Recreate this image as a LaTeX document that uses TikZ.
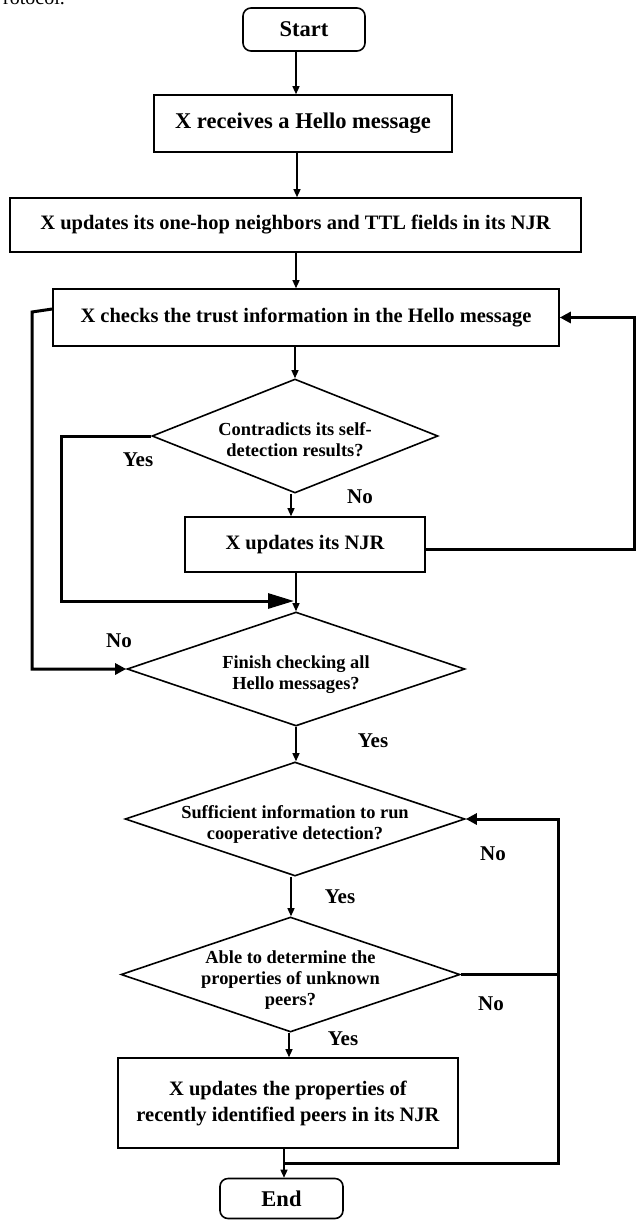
\documentclass[tikz,border=0pt]{standalone}
\usepackage{fontspec}
\setmainfont{Liberation Serif}
\usetikzlibrary{shapes.geometric,arrows.meta}
\newcommand\diatxt[1]{\raisebox{-6pt}[\height][\depth]{\begin{tabular}{@{}c@{}}#1\end{tabular}}}
\begin{document}
\begin{tikzpicture}[x=1pt,y=-1pt,
  box/.style={draw,line width=1.6pt,inner sep=0pt,align=center,
    font=\bfseries\fontsize{20.5}{26}\selectfont},
  term/.style={box,rounded corners=8pt,font=\bfseries\fontsize{22.5}{26}\selectfont},
  dia/.style={draw,diamond,line width=1.6pt,inner xsep=-60pt,inner ysep=-18pt,
    font=\bfseries\fontsize{18.4}{21}\selectfont},
  lab/.style={inner sep=0pt,font=\bfseries\fontsize{21}{24}\selectfont},
  arr/.style={line width=1.3pt,-{Triangle[length=8pt,width=7pt]}},
  fat/.style={line width=3pt},
  fatarr/.style={fat,-{Triangle[length=11pt,width=11pt]}},
  bigarr/.style={fat,-{Triangle[length=26pt,width=15pt]}},
]
\useasboundingbox (0,0) rectangle (636,1220);
\fill[white] (0,0) rectangle (636,1220);

% fragment of the page text above the figure
\node[anchor=base west,inner sep=0pt,font=\fontsize{20}{24}\selectfont] (frag) at (3,5) {rotocol.};

% nodes
\node[term,minimum width=122pt,minimum height=43pt] (start) at (304,29.5) {Start};
\node[box,minimum width=298pt,minimum height=57pt,font=\bfseries\fontsize{22.5}{26}\selectfont] (recv) at (303,123.5) {X receives a Hello message};
\node[box,minimum width=571pt,minimum height=54pt] (onehop) at (295.5,225) {X updates its one-hop neighbors and TTL fields in its NJR};
\node[box,minimum width=506pt,minimum height=57pt] (checks) at (306,317.5) {X checks the trust information in the Hello message};
\node[dia,minimum width=286pt,minimum height=114pt] (d1) at (295,436) {\diatxt{Contradicts its self-\\detection results?}};
\node[box,minimum width=240pt,minimum height=55pt] (njr) at (305,544.5) {X updates its NJR};
\node[dia,minimum width=338pt,minimum height=114pt] (d2) at (296,669) {\diatxt{Finish checking all\\Hello messages?}};
\node[dia,minimum width=340pt,minimum height=114pt] (d3) at (295,819) {\diatxt{Sufficient information to run\\cooperative detection?}};
\node[dia,minimum width=339pt,minimum height=115pt] (d4) at (290.5,974.5) {\diatxt{Able to determine the\\properties of unknown\\peers?}};
\node[box,minimum width=340pt,minimum height=90pt] (final) at (288,1103) {X updates the properties of\\recently identified peers in its NJR};
\node[term,minimum width=123pt,minimum height=40pt] (end) at (281.5,1198.5) {End};

% labels
\node[lab] (y1) at (138,460) {Yes};
\node[lab] (n1) at (360,497) {No};
\node[lab] (n2) at (119,641) {No};
\node[lab] (y2) at (373,741) {Yes};
\node[lab] (n3) at (493,854) {No};
\node[lab] (y3) at (340,897) {Yes};
\node[lab] (n4) at (491,1004) {No};
\node[lab] (y4) at (343,1039) {Yes};

% columns for vertical arrows
\coordinate (cA) at (296,0);
\coordinate (cB) at (297,0);
\coordinate (cC) at (291,0);
\coordinate (cD) at (289,0);
\coordinate (cE) at (284,0);

\draw[arr] (start.south -| cA) -- (recv.north -| cA);
\draw[arr] (recv.south -| cB) -- (onehop.north -| cB);
\draw[arr] (onehop.south -| cA) -- (checks.north -| cA);
\draw[arr] (checks.south -| d1.north) -- (d1.north);
\draw[arr] (d1.south -| cC) -- (njr.north -| cC);
\draw[arr] (njr.south -| cA) -- (d2.north);
\draw[arr] (d2.south) -- (d3.north -| d2.south);
\draw[arr] (d3.south -| cC) -- (d4.north -| cC);
\draw[arr] (d4.south -| cD) -- (final.north -| cD);
\draw[arr] (final.south -| cE) -- (end.north -| cE);

% Yes branch of d1
\coordinate (yl) at (61,601);
\coordinate (ym) at (294,601);
\draw[bigarr] (d1.west) -| (yl) -- (ym);

% No branch of d2 back to its left
\coordinate (lt) at (32,312);
\draw[fatarr] ([yshift=8.5pt]checks.west) -- (lt) -- (lt |- d2.west) -- (d2.west);

% loop from NJR back to checks
\coordinate (rr) at (634.5,0);
\draw[fatarr] ([yshift=-5pt]njr.east) -- ([yshift=-5pt]njr.east -| rr) -- (rr |- checks.east) -- (checks.east);

% right loop at the bottom
\coordinate (rb) at (558,0);
\coordinate (joinB) at (284,1163);
\draw[fat] (d4.east) -- (d4.east -| rb);
\draw[fatarr] (joinB) -- (joinB -| rb) -- (rb |- d3.east) -- (d3.east);
\end{tikzpicture}
\end{document}
